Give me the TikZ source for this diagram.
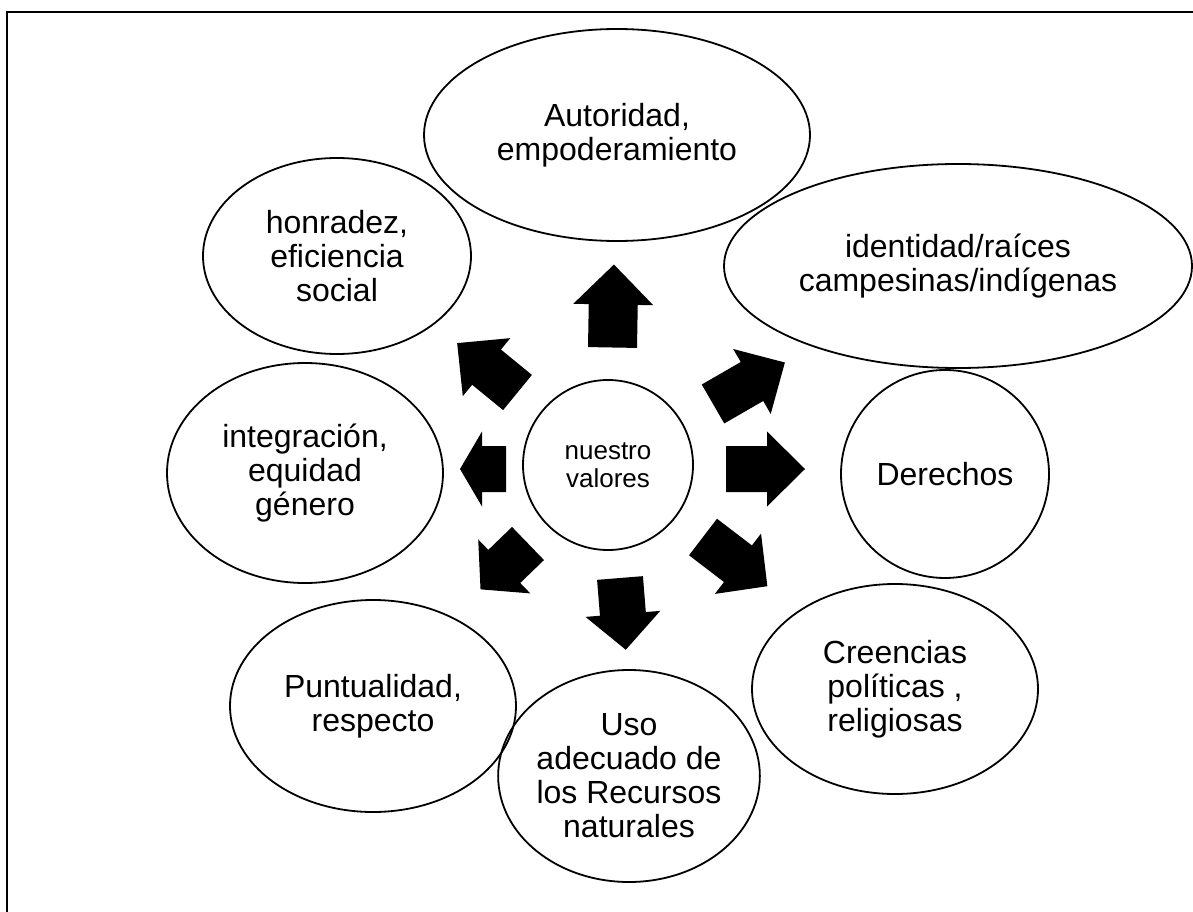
\documentclass[tikz,border=0pt]{standalone}
\usepackage{fontspec}
\setmainfont{Liberation Sans}
\usetikzlibrary{shapes.geometric}
% block arrow: base x, base y, angle, total length, head length, shaft width, head width
\newcommand\blockarr[7]{%
  \begin{scope}[shift={(#1,#2)},rotate=#3]
    \fill[black] (0,{#6/2}) -- ({#4-#5},{#6/2}) -- ({#4-#5},{#7/2}) -- (#4,0)
      -- ({#4-#5},{-#7/2}) -- ({#4-#5},{-#6/2}) -- (0,{-#6/2}) -- cycle;
  \end{scope}}
\tikzset{
  bubble/.style={ellipse, draw=black, line width=1.8pt, inner sep=0pt, align=center,
    font=\fontsize{32}{34}\selectfont},
  hub/.style={circle, draw=black, line width=1.8pt, inner sep=0pt, align=center,
    font=\fontsize{26}{28}\selectfont},
  frame/.style={line width=2pt, draw=black}
}
\begin{document}
\begin{tikzpicture}[x=1pt,y=-1pt]
\useasboundingbox (0,0) rectangle (1193,912);
\fill[white] (0,0) rectangle (1193,912);
\draw[frame] (7,918) -- (7,12) -- (1200,12);

\node[bubble, minimum width=386pt, minimum height=212pt] (aut) at (617,135) {Autoridad,\\empoderamiento};
\node[bubble, minimum width=468pt, minimum height=204pt] (ide) at (958,266) {identidad/raíces\\campesinas/indígenas};
\node[bubble, minimum width=208pt, minimum height=208pt] (der) at (945,474) {Derechos};
\node[bubble, minimum width=286pt, minimum height=210pt] (cre) at (895,689) {Creencias\\políticas ,\\religiosas};
\node[bubble, minimum width=256pt, minimum height=212pt] (uso) at (629,776) {Uso\\adecuado de\\los Recursos\\naturales};
\node[bubble, minimum width=286pt, minimum height=212pt] (pun) at (373,706) {Puntualidad,\\respecto};
\node[bubble, minimum width=276pt, minimum height=220pt] (int) at (305,473) {integración,\\equidad\\género};
\node[bubble, minimum width=268pt, minimum height=196pt] (hon) at (337,256) {honradez,\\eficiencia\\social};
\node[hub, minimum size=170pt] (val) at (608,465) {nuestro\\valores};

\blockarr{612.5}{347.5}{89}{83}{40}{49}{80}
\blockarr{713}{404}{30}{83}{38}{45}{75}
\blockarr{726}{469}{0}{79}{38}{46}{75}
\blockarr{703}{537}{-37.4}{81}{37}{46}{76}
\blockarr{620}{578}{-85.4}{72}{36}{46}{75}
\blockarr{528}{543.5}{-136}{66}{33}{46}{75}
\blockarr{506}{469}{180}{46}{22}{46}{75}
\blockarr{517.5}{392.5}{140.7}{78}{38}{45.5}{75}
\end{tikzpicture}
\end{document}
